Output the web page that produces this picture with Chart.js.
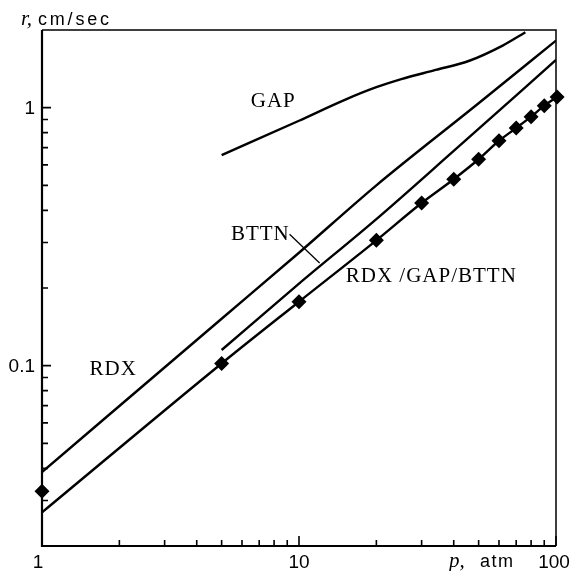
<!DOCTYPE html>
<html lang="en">
<head>
    <meta charset="UTF-8">
    <title>Burning rate vs pressure</title>
    <script src="https://cdn.jsdelivr.net/npm/chart.js"></script>
    <style>
        html, body {margin: 0; padding: 0; background: #fff;}
        #wrap {width: 572px; height: 571px;}
    </style>
</head>
<body>
    <div id="wrap"><canvas id="rate_canvas" width="572" height="571"></canvas></div>
    <script>
        // p in atm, r in cm/sec
        const rdxP = [1, 5, 10, 20, 50, 100];
        const rdxR = [0.0387, 0.152, 0.274, 0.50, 1.04, 1.82];

        const bttnP = [5, 10, 20, 40, 100];
        const bttnR = [0.115, 0.208, 0.37, 0.68, 1.53];

        const gapP = [5, 10, 15, 20, 25, 34, 46, 62, 76];
        const gapR = [0.655, 0.89, 1.07, 1.2, 1.29, 1.40, 1.52, 1.74, 1.96];

        const mixLineP = [1, 5, 10, 20, 30, 40, 50, 60, 70, 80, 90, 101];
        const mixLineR = [0.027, 0.102, 0.177, 0.306, 0.427, 0.528, 0.631, 0.744, 0.834, 0.923, 1.018, 1.10];

        const mixP = [1, 5, 10, 20, 30, 40, 50, 60, 70, 80, 90, 101];
        const mixR = [0.0326, 0.102, 0.177, 0.306, 0.427, 0.528, 0.631, 0.744, 0.834, 0.923, 1.018, 1.10];

        const xMajor = [1, 10, 100];
        const xMinor = [2, 3, 4, 5, 6, 7, 8, 9, 20, 30, 40, 50, 60, 70, 80, 90];
        const yMajor = [0.1, 1];
        const yMinor = [0.02, 0.03, 0.04, 0.05, 0.06, 0.07, 0.08, 0.09, 0.2, 0.3, 0.4, 0.5, 0.6, 0.7, 0.8, 0.9];

        // curve labels, anchored in data coords
        const notes = [
            {text: 'GAP', p: 7.94, r: 1.055, align: 'center'},
            {text: 'RDX', p: 1.894, r: 0.0965, align: 'center'},
            {text: 'BTTN', p: 7.07, r: 0.323, align: 'center'},
            {text: 'RDX /GAP/BTTN', p: 15.2, r: 0.222, align: 'left'},
        ];

        const toPts = (xs, ys) => xs.map((x, i) => ({x: x, y: ys[i]}));

        const lineSet = (xs, ys) => ({
            data: toPts(xs, ys),
            showLine: true,
            borderColor: '#000',
            borderWidth: 2.4,
            pointRadius: 0,
            cubicInterpolationMode: 'monotone',
            fill: false,
        });

        const frame = {
            id: 'frame',
            afterDraw(chart) {
                const ctx = chart.ctx;
                const a = chart.chartArea;
                const xs = chart.scales.x;
                const ys = chart.scales.y;
                ctx.save();
                ctx.strokeStyle = '#000';
                ctx.fillStyle = '#000';

                // top / right border
                ctx.lineWidth = 1.5;
                ctx.beginPath();
                ctx.moveTo(a.left, a.top);
                ctx.lineTo(a.right, a.top);
                ctx.lineTo(a.right, a.bottom);
                ctx.stroke();

                // left / bottom axes
                ctx.lineWidth = 2.2;
                ctx.beginPath();
                ctx.moveTo(a.left, a.top);
                ctx.lineTo(a.left, a.bottom);
                ctx.lineTo(a.right, a.bottom);
                ctx.stroke();

                // inside ticks
                ctx.lineWidth = 1.6;
                ctx.beginPath();
                xMinor.forEach(v => {
                    const px = xs.getPixelForValue(v);
                    ctx.moveTo(px, a.bottom); ctx.lineTo(px, a.bottom - 6);
                });
                xMajor.forEach(v => {
                    const px = xs.getPixelForValue(v);
                    ctx.moveTo(px, a.bottom); ctx.lineTo(px, a.bottom - 10);
                });
                yMinor.forEach(v => {
                    const py = ys.getPixelForValue(v);
                    ctx.moveTo(a.left, py); ctx.lineTo(a.left + 6, py);
                });
                yMajor.forEach(v => {
                    const py = ys.getPixelForValue(v);
                    ctx.moveTo(a.left, py); ctx.lineTo(a.left + 9, py);
                });
                ctx.stroke();

                // tick labels
                ctx.font = '19px "Liberation Sans", Arial, sans-serif';
                ctx.textBaseline = 'alphabetic';
                ctx.textAlign = 'center';
                xMajor.forEach(v => {
                    ctx.fillText(String(v), xs.getPixelForValue(v) - (v === 1 ? 4 : 0) - (v === 100 ? 2 : 0), a.bottom + 22);
                });
                ctx.textAlign = 'right';
                ctx.textBaseline = 'middle';
                yMajor.forEach(v => {
                    ctx.fillText(String(v), a.left - 7, ys.getPixelForValue(v) + 1);
                });

                // axis titles
                ctx.textBaseline = 'alphabetic';
                ctx.textAlign = 'left';
                ctx.font = 'italic 21px "Liberation Serif", serif';
                ctx.fillText('r,', 21, 25);
                ctx.fillText('p,', 449, a.bottom + 21);
                ctx.font = '18px "Liberation Sans", Arial, sans-serif';
                if ('letterSpacing' in ctx) ctx.letterSpacing = '2.8px';
                ctx.fillText('cm/sec', 38, 25);
                ctx.letterSpacing = '1.5px';
                ctx.fillText('atm', 480, a.bottom + 21);

                // curve labels
                ctx.font = '21px "Liberation Serif", "Times New Roman", serif';
                ctx.letterSpacing = '1px';
                ctx.textBaseline = 'middle';
                notes.forEach(n => {
                    ctx.textAlign = n.align;
                    ctx.fillText(n.text, xs.getPixelForValue(n.p), ys.getPixelForValue(n.r));
                });
                ctx.letterSpacing = '0px';

                // BTTN leader line
                ctx.lineWidth = 1.3;
                ctx.beginPath();
                ctx.moveTo(xs.getPixelForValue(9.19), ys.getPixelForValue(0.323));
                ctx.lineTo(xs.getPixelForValue(12.03), ys.getPixelForValue(0.25));
                ctx.stroke();
                ctx.restore();
            }
        };

        const rateChart = new Chart(document.getElementById('rate_canvas'), {
            type: 'scatter',
            data: {
                datasets: [
                    lineSet(rdxP, rdxR),
                    lineSet(bttnP, bttnR),
                    lineSet(gapP, gapR),
                    Object.assign(lineSet(mixLineP, mixLineR), {clip: false}),
                    {
                        data: toPts(mixP, mixR),
                        showLine: false,
                        pointStyle: 'rectRot',
                        pointRadius: 7.5,
                        backgroundColor: '#000',
                        borderColor: '#000',
                        borderWidth: 0,
                        clip: false,
                    },
                ]
            },
            options: {
                responsive: false,
                animation: false,
                layout: {padding: {left: 42, right: 16, top: 30, bottom: 25}},
                scales: {
                    x: {type: 'logarithmic', min: 1, max: 100, display: false},
                    y: {type: 'logarithmic', min: 0.02, max: 2, display: false},
                },
                plugins: {
                    legend: {display: false},
                    tooltip: {enabled: false},
                },
            },
            plugins: [frame],
        });
    </script>
</body>
</html>
